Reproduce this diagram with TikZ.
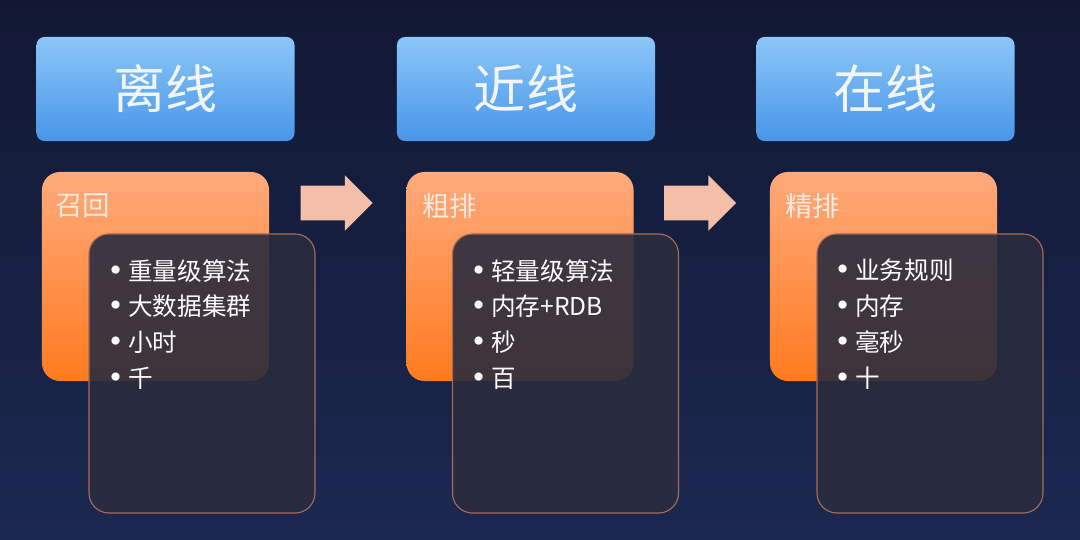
\documentclass[tikz,border=0pt]{standalone}
\usepackage{fontspec}
\setmainfont{Noto Sans CJK SC}
\newfontfamily\bulletfont{DejaVu Sans}
\usetikzlibrary{shapes.arrows}

\definecolor{bgtop}{HTML}{121834}
\definecolor{bgbottom}{HTML}{1B2850}
\definecolor{bluetop}{HTML}{8CC6F8}
\definecolor{bluebottom}{HTML}{4896E8}
\definecolor{orangetop}{HTML}{FFAA7C}
\definecolor{orangebottom}{HTML}{FF7A1E}
\definecolor{panelfill}{HTML}{2A2C3E}
\definecolor{panelline}{HTML}{A86A58}
\definecolor{arrowfill}{HTML}{F4BFA8}
\definecolor{headtext}{HTML}{F2F6FC}
\definecolor{labeltext}{HTML}{FFEADF}

\newcommand{\bl}{\makebox[15pt][l]{\bulletfont\fontsize{20}{20}\selectfont •}}

\tikzset{
  headbox/.style={rounded corners=0.2cm, top color=bluetop, bottom color=bluebottom, minimum width=6.45cm, minimum height=2.6cm, text=headtext, font=\fontsize{37}{40}\selectfont},
  stagebox/.style={rounded corners=0.45cm, top color=orangetop, bottom color=orangebottom, minimum width=5.675cm, minimum height=5.225cm},
  panelbox/.style={rounded corners=0.5cm, fill=panelfill, fill opacity=0.9, draw=panelline, line width=0.8pt, minimum width=5.65cm, minimum height=6.975cm},
  stagelabel/.style={anchor=west, inner sep=0pt, text=labeltext, font=\fontsize{19.5}{22}\selectfont},
  itemlist/.style={anchor=north west, inner sep=0pt, align=left, text=white, font=\fontsize{17.5}{25.5}\selectfont},
  flowarrow/.style={single arrow, fill=arrowfill, minimum height=1.8cm, inner xsep=0pt, inner ysep=0.425cm, single arrow head extend=0.26cm, single arrow tip angle=90}
}

\begin{document}
\begin{tikzpicture}[x=0.025cm, y=-0.025cm]
\useasboundingbox (0,0) rectangle (1080,540);
\shade[top color=bgtop, bottom color=bgbottom] (0,0) rectangle (1080,540);

% headers
\node[headbox] (offline) at (165.5,89) {离线};
\node[headbox] (nearline) at (526,89) {近线};
\node[headbox] (online) at (885.5,89) {在线};

% stages
\node[stagebox] (recall) at (155.5,276.5) {};
\node[stagebox] (prerank) at (520,276.5) {};
\node[stagebox] (rank) at (883.5,276.5) {};
\node[stagelabel] (recalllabel) at (55,206) {召回};
\node[stagelabel] (preranklabel) at (422,206) {粗排};
\node[stagelabel] (ranklabel) at (785,206) {精排};

% panels
\node[panelbox] (recallpanel) at (202,373.5) {};
\node[panelbox] (prerankpanel) at (565.5,373.5) {};
\node[panelbox] (rankpanel) at (930,373.5) {};
\node[itemlist] (recallitems) at (107,259) {\bl 重量级算法\\ \bl 大数据集群\\ \bl 小时\\ \bl 千};
\node[itemlist] (prerankitems) at (470,259) {\bl 轻量级算法\\ \bl 内存+RDB\\ \bl 秒\\ \bl 百};
\node[itemlist] (rankitems) at (834,259) {\bl 业务规则\\ \bl 内存\\ \bl 毫秒\\ \bl 十};

% arrows
\node[flowarrow] (arrowone) at (328,203) {};
\node[flowarrow] (arrowtwo) at (691.5,203) {};
\end{tikzpicture}
\end{document}
